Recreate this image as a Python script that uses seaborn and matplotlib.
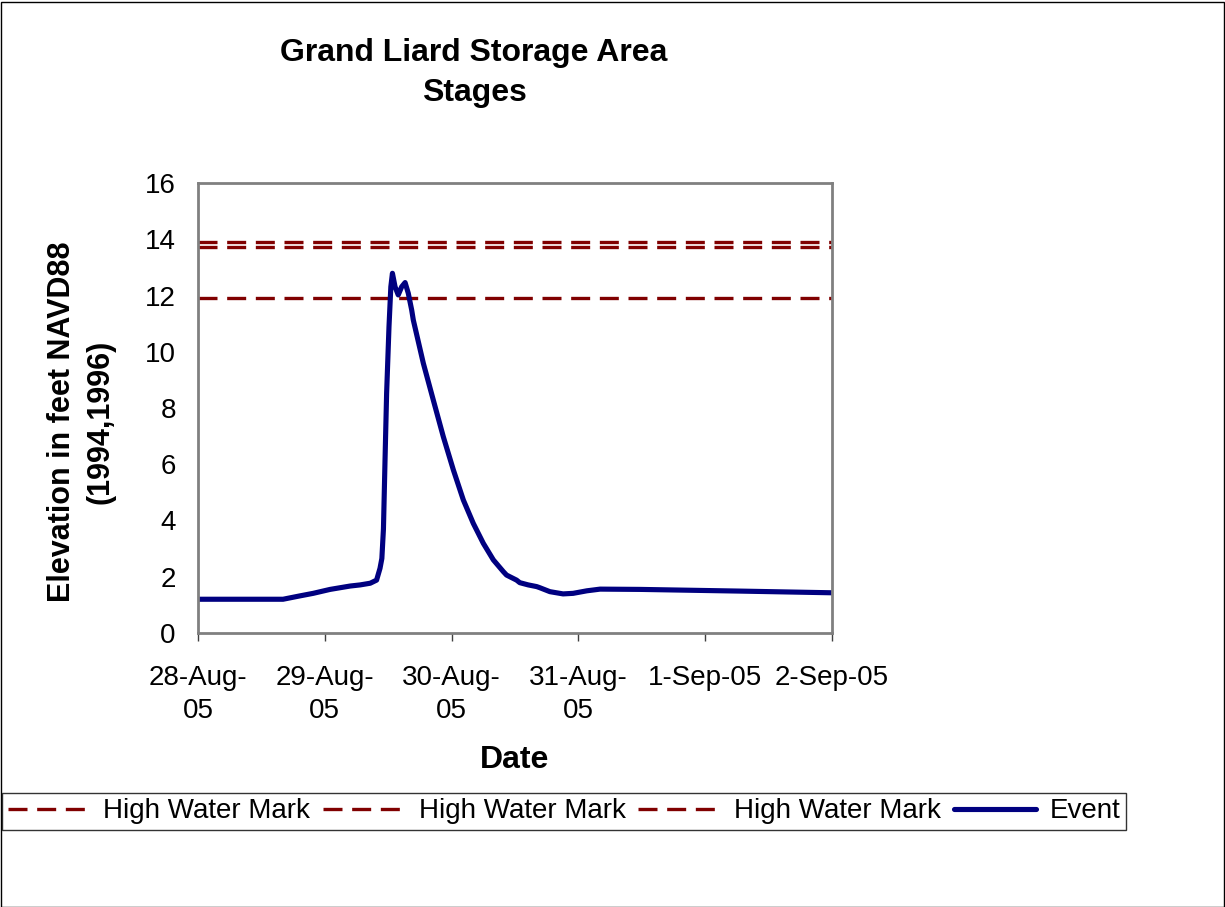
import pandas as pd
import numpy as np
import matplotlib.pyplot as plt
import seaborn as sns
from matplotlib.patches import Rectangle

# Stage readings (hours after 28-Aug-05 00:00, elevation ft NAVD88)
event_hours = [0, 8, 16.1, 19.3, 21.8, 25.0, 28.8, 30.7, 32.6, 33.8, 34.45, 34.8, 35.1,
               35.4, 35.7, 36.15, 36.5, 36.8, 37.3, 37.9, 38.55, 39.2, 39.8, 40.45,
               40.75, 42.65, 44.54, 46.43, 48.33, 50.22, 52.1, 54.0, 55.9, 57.8, 58.4,
               60.3, 60.9, 62.5, 64.1, 64.7, 66.6, 69.1, 71.0, 73.6, 76.1, 83.7,
               102.6, 120]
event_stage = [1.20, 1.20, 1.20, 1.32, 1.41, 1.55, 1.67, 1.71, 1.77, 1.88, 2.30, 2.65,
               3.70, 6.15, 8.52, 10.89, 12.31, 12.79, 12.31, 12.02, 12.31, 12.46,
               12.08, 11.48, 11.13, 9.59, 8.28, 6.98, 5.80, 4.73, 3.90, 3.19, 2.60,
               2.18, 2.06, 1.88, 1.79, 1.71, 1.65, 1.61, 1.47, 1.39, 1.41, 1.50, 1.56,
               1.55, 1.49, 1.43]

high_water_marks = [13.91, 13.71, 11.90]

tick_labels = ['28-Aug-\n05', '29-Aug-\n05', '30-Aug-\n05', '31-Aug-\n05', '1-Sep-05', '2-Sep-05']

start = pd.Timestamp('2005-08-28')
event_df = pd.DataFrame({'date': start + pd.to_timedelta(event_hours, unit='h'),
                         'stage': event_stage})

sns.set_style('white')
plt.rcParams['font.family'] = ['Liberation Sans', 'DejaVu Sans']
plt.rcParams['text.color'] = 'black'
plt.rcParams['axes.labelcolor'] = 'black'

fig = plt.figure(figsize=(12.25, 9.07), dpi=100)
ax = fig.add_axes([198 / 1225, 1 - 633 / 907, (832 - 198) / 1225, (633 - 183) / 907])

end = start + pd.Timedelta(days=5)
for hwm in high_water_marks:
    hwm_df = pd.DataFrame({'date': [start, end], 'stage': [hwm, hwm]})
    sns.lineplot(data=hwm_df, x='date', y='stage', ax=ax, color='#800000',
                 linewidth=2.4, label='High Water Mark')
    ax.lines[-1].set_dashes((5.7, 2.9))

sns.lineplot(data=event_df, x='date', y='stage', ax=ax, color='#000080',
             linewidth=3.7, label='Event')

ax.set_xlim(start, end)
ax.set_ylim(0, 16)
ax.set_yticks(range(0, 17, 2))
ax.set_xticks([start + pd.Timedelta(days=i) for i in range(6)])
ax.set_xticklabels(tick_labels, linespacing=1.35)
ax.tick_params(axis='x', labelsize=20, direction='out', length=6, width=1,
               color='#404040', labelcolor='black', bottom=True, pad=17)
ax.tick_params(axis='y', labelsize=20, length=0, labelcolor='black', pad=16)

for side in ['top', 'right', 'left', 'bottom']:
    ax.spines[side].set_color('#808080')
    ax.spines[side].set_linewidth(2)

ax.set_xlabel('Date', fontsize=23, fontweight='bold')
ax.xaxis.set_label_coords(0.5, (633 - 745) / 450)
ax.set_ylabel('Elevation in feet NAVD88\n(1994,1996)', fontsize=22,
              fontweight='bold', linespacing=1.35, va='center')
ax.yaxis.set_label_coords((81 - 198) / 634, 0.47)
fig.text(474 / 1225, 1 - 73 / 907, 'Grand Liard Storage Area\nStages', ha='center',
         va='center', fontsize=23, fontweight='bold', linespacing=1.42)

handles, labels = ax.get_legend_handles_labels()
ax.get_legend().remove()
leg = fig.legend(handles, labels, ncol=4, loc='lower left',
                 bbox_to_anchor=(2 / 1225, 1 - 830 / 907), fontsize=20, frameon=True,
                 fancybox=False, edgecolor='black', handlelength=2.95,
                 handletextpad=0.5, columnspacing=0.45, borderpad=0.2,
                 borderaxespad=0)
leg.get_frame().set_linewidth(1)

fig.patches.append(Rectangle((0.5 / 1225, 0.5 / 907), 1 - 2 / 1225, 1 - 2 / 907,
                             transform=fig.transFigure, fill=False,
                             edgecolor='black', linewidth=1))

fig.savefig('out.png', dpi=100)
